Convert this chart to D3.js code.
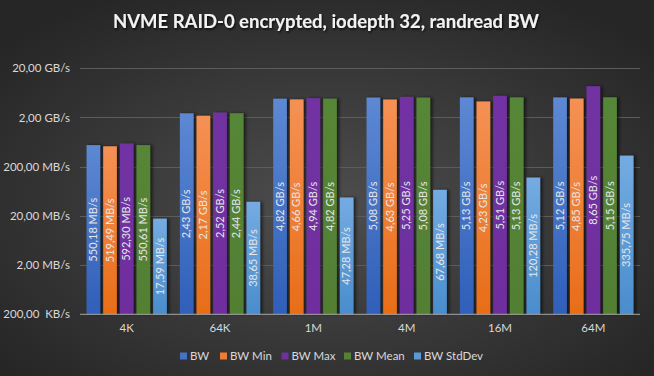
<!DOCTYPE html>
<html><head><meta charset="utf-8">
<script src="https://cdn.jsdelivr.net/npm/d3@7"></script>
<style>body{margin:0;background:#333;}svg{display:block;}text{white-space:pre;}</style>
</head><body><svg id="c" width="654" height="376"></svg>
<script>
const categories = ["4K","64K","1M","4M","16M","64M"];
const seriesNames = ["BW","BW Min","BW Max","BW Mean","BW StdDev"];
// values in MB/s
const bw      = [550.18, 2430, 4820, 5080, 5130, 5120];
const bwMin   = [519.49, 2170, 4660, 4630, 4230, 4850];
const bwMax   = [592.30, 2520, 4940, 5250, 5510, 8650];
const bwMean  = [550.61, 2440, 4820, 5080, 5130, 5150];
const bwStd   = [17.59, 38.65, 47.28, 67.68, 120.28, 335.75];
const labels = [
  ["550,18 MB/s","2,43 GB/s","4,82 GB/s","5,08 GB/s","5,13 GB/s","5,12 GB/s"],
  ["519,49 MB/s","2,17 GB/s","4,66 GB/s","4,63 GB/s","4,23 GB/s","4,85 GB/s"],
  ["592,30 MB/s","2,52 GB/s","4,94 GB/s","5,25 GB/s","5,51 GB/s","8,65 GB/s"],
  ["550,61 MB/s","2,44 GB/s","4,82 GB/s","5,08 GB/s","5,13 GB/s","5,15 GB/s"],
  ["17,59 MB/s","38,65 MB/s","47,28 MB/s","67,68 MB/s","120,28 MB/s","335,75 MB/s"]
];
const yTicks = [0.2, 2, 20, 200, 2000, 20000];
const yTickLabels = ["200,00  KB/s","2,00 MB/s","20,00 MB/s","200,00 MB/s","2,00 GB/s","20,00 GB/s"];
const title = "NVME RAID-0 encrypted, iodepth 32, randread BW";

const series = [bw,bwMin,bwMax,bwMean,bwStd];
const colorsTop = ["#5d88d3","#f59155","#7232a3","#568637","#74abe2"];
const colorsBot = ["#2f5fb9","#e86d17","#6e2e9e","#527f33","#4a8dcd"];
const legendColors = ["#4472c4","#ed7d31","#7030a0","#548235","#5b9bd5"];

const svg = d3.select("#c");
const W=654,H=376;
const defs = svg.append("defs");
const rg = defs.append("radialGradient").attr("id","bg").attr("cx","50%").attr("cy","55%").attr("r","65%");
rg.append("stop").attr("offset","0%").attr("stop-color","#4e4e4e");
rg.append("stop").attr("offset","100%").attr("stop-color","#262626");
series.forEach((s,i)=>{
  const g = defs.append("linearGradient").attr("id","g"+i).attr("x1",0).attr("y1",0).attr("x2",0).attr("y2",1);
  g.append("stop").attr("offset","0%").attr("stop-color",colorsTop[i]);
  g.append("stop").attr("offset","100%").attr("stop-color",colorsBot[i]);
});
const f = defs.append("filter").attr("id","sh").attr("x","-50%").attr("y","-10%").attr("width","200%").attr("height","130%");
f.append("feDropShadow").attr("dx",2.5).attr("dy",0).attr("stdDeviation",1.6).attr("flood-color","#000").attr("flood-opacity",0.55);
const tf = defs.append("filter").attr("id","tsh").attr("x","-10%").attr("y","-30%").attr("width","120%").attr("height","160%");
tf.append("feDropShadow").attr("dx",1).attr("dy",1.5).attr("stdDeviation",1).attr("flood-color","#000").attr("flood-opacity",0.8);

svg.append("rect").attr("width",W).attr("height",H).attr("fill","url(#bg)");

const pLeft=80,pRight=640,pTop=68.3,pBottom=314.3;
const y = d3.scaleLog().domain([0.2,20000]).range([pBottom,pTop]);
const x0 = d3.scaleBand().domain(categories).range([pLeft,pRight]).paddingInner(0.14).paddingOuter(0.07);
const x1 = d3.scaleBand().domain(d3.range(5)).range([0,x0.bandwidth()]).paddingInner(0.18).paddingOuter(0);

// grid
svg.append("g").selectAll("line").data(yTicks.slice(1)).join("line")
  .attr("x1",pLeft).attr("x2",pRight).attr("y1",d=>Math.round(y(d))+0.5).attr("y2",d=>Math.round(y(d))+0.5)
  .attr("stroke","#5c5c5c").attr("stroke-width",1);

// y labels
const yAxis = d3.axisLeft(y).tickValues(yTicks).tickFormat((d,i)=>yTickLabels[i]).tickSize(0).tickPadding(10);
const ya = svg.append("g").attr("transform",`translate(${pLeft},0)`).call(yAxis);
ya.select(".domain").remove();
ya.selectAll("text").attr("fill","#d9d9d9").attr("font-family","Lato, 'Open Sans', sans-serif").attr("font-size","11.5px").style("white-space","pre");

// bars
const groups = svg.append("g").selectAll("g").data(categories).join("g")
  .attr("transform",d=>`translate(${x0(d)},0)`);
series.forEach((s,i)=>{
  groups.append("rect")
    .attr("x",x1(i)).attr("width",x1.bandwidth())
    .attr("y",(d,j)=>y(s[j])).attr("height",(d,j)=>pBottom-y(s[j]))
    .attr("fill","url(#g"+i+")").attr("filter","url(#sh)");
});
series.forEach((s,i)=>{
  groups.append("text")
    .attr("transform",(d,j)=>`translate(${x1(i)+x1.bandwidth()/2+3.8},${(y(s[j])+pBottom)/2}) rotate(-90)`)
    .attr("text-anchor","middle")
    .attr("fill","#e6e6e6").attr("font-family","Lato, 'Open Sans', sans-serif").attr("font-size","11px")
    .text((d,j)=>labels[i][j]);
});

// x axis
svg.append("line").attr("x1",pLeft).attr("x2",pRight).attr("y1",pBottom).attr("y2",pBottom).attr("stroke","#a6a6a6").attr("stroke-width",1);
const xAxis = d3.axisBottom(x0).tickSize(0).tickPadding(10);
const xa = svg.append("g").attr("transform",`translate(0,${pBottom})`).call(xAxis);
xa.select(".domain").remove();
xa.selectAll("text").attr("fill","#d9d9d9").attr("font-family","Lato, 'Open Sans', sans-serif").attr("font-size","11.5px");

// title
svg.append("text").attr("x",326).attr("y",28).attr("text-anchor","middle")
  .attr("fill","#f2f2f2").attr("font-family","Lato, 'Open Sans', sans-serif").attr("font-weight","bold").attr("font-size","18.5px")
  .attr("filter","url(#tsh)").text(title);

// legend
const legX = [180,220,281.5,344,414];
const lg = svg.append("g").selectAll("g").data(seriesNames).join("g")
  .attr("transform",(d,i)=>`translate(${legX[i]},356)`);
lg.append("rect").attr("x",0).attr("y",-3.5).attr("width",7).attr("height",7).attr("fill",(d,i)=>legendColors[i]);
lg.append("text").attr("x",10).attr("y",4).attr("fill","#d9d9d9").attr("font-family","Lato, 'Open Sans', sans-serif").attr("font-size","11.5px").text(d=>d);
</script></body></html>
